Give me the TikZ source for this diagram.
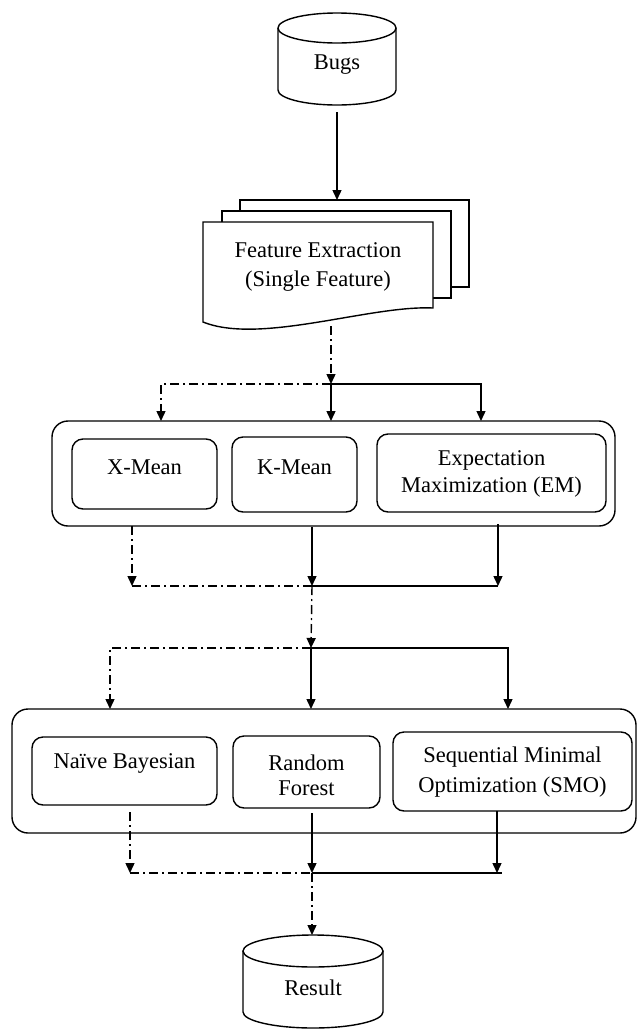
\documentclass[tikz,border=0pt]{standalone}
\usepackage{fontspec}
\setmainfont{Liberation Serif}
\usetikzlibrary{arrows.meta}
\tikzset{
  ln/.style={line width=1.4pt},
  arr/.style={ln, -{Triangle[length=10pt,width=9pt]}},
  dd/.style={dash pattern=on 9pt off 4pt on 2pt off 4pt},
  box/.style={draw, line width=1.4pt, rounded corners=11pt, inner sep=0pt},
  bigbox/.style={draw, line width=1.4pt, rounded corners=16pt, inner sep=0pt},
  txt/.style={font=\fontsize{22.5}{27}\selectfont, align=center, inner sep=0pt},
}
\begin{document}
\begin{tikzpicture}[x=1pt,y=-1pt]
\useasboundingbox (0,0) rectangle (638,1029);
% ---- Bugs cylinder
\draw[ln] (278,28) -- (278,90) arc[start angle=180,end angle=360,x radius=59pt,y radius=15pt] -- (396,28);
\draw[ln] (337,28) ellipse[x radius=59pt, y radius=15pt];
\node[minimum width=118pt, minimum height=92pt, inner sep=0pt] (bugs) at (337,59) {};
\node[txt] (bugst) at (337,65) {Bugs};
\coordinate (bugsout) at (337,112);
% ---- Feature extraction (multi document)
\draw[ln, fill=white] (240,200) rectangle (469,287);
\draw[ln, fill=white] (222,211) rectangle (451,298);
\draw[ln, fill=white] (203,222) -- (433,222) -- (433,308)
   .. controls (370,305) and (260,345) .. (203,322) -- cycle;
\node[txt, font=\fontsize{22.5}{29}\selectfont] (feat) at (318,267) {Feature Extraction\\(Single Feature)};
\coordinate (doctop) at (337,200);
\coordinate (docbot) at (331,326);
\draw[arr] (bugsout) -- (doctop);
% ---- split 1
\coordinate (j1) at (331,384);
\coordinate (c1a) at (161,421);
\coordinate (c1b) at (331,421);
\coordinate (c1c) at (481,421);
\draw[arr,dd] (docbot) -- (j1);
\draw[arr,dd] (j1) -| (c1a);
\draw[arr] (j1) -- (c1b);
\draw[arr] (j1) -| (c1c);
% ---- container 1
\node[bigbox, minimum width=563pt, minimum height=105pt] (cont1) at (333.5,473.5) {};
\node[box, minimum width=145pt, minimum height=70pt] (xmean) at (144.5,474) {};
\node[txt] (xmeant) at (144.5,467) {X-Mean};
\node[box, minimum width=125pt, minimum height=75pt] (kmean) at (294.5,474.5) {};
\node[txt] (kmeant) at (294.5,467) {K-Mean};
\node[box, minimum width=229pt, minimum height=78pt] (em) at (491.5,473) {};
\node[txt] (emt) at (491.5,474) {Expectation\\Maximization (EM)};
% ---- merge 1
\coordinate (m1a) at (132,526);
\coordinate (m1b) at (312,527);
\coordinate (m1c) at (498,524);
\coordinate (j2) at (312,586);
\coordinate (e1a) at (132,586);
\coordinate (e1c) at (498,586);
\draw[arr,dd] (m1a) -- (e1a);
\draw[arr] (m1b) -- (j2);
\draw[arr] (m1c) -- (e1c);
\draw[ln,dd] (e1a) -- (j2);
\draw[ln] (j2) -- (e1c);
% ---- split 2
\coordinate (j3) at (311,648);
\coordinate (c2a) at (110,709);
\coordinate (c2b) at (311,709);
\coordinate (c2c) at (508,709);
\draw[arr,dd] (j2) -- (j3);
\draw[arr,dd] (j3) -| (c2a);
\draw[arr] (j3) -- (c2b);
\draw[arr] (j3) -| (c2c);
% ---- container 2
\node[bigbox, minimum width=624pt, minimum height=124pt] (cont2) at (324,771) {};
\node[box, minimum width=185pt, minimum height=68pt] (nb) at (124.5,771) {};
\node[txt] (nbt) at (124.5,763) {Naïve Bayesian};
\node[box, minimum width=147pt, minimum height=72pt] (rf) at (306.5,772) {};
\node[txt, font=\fontsize{22.5}{25}\selectfont] (rft) at (306.5,775) {Random\\Forest};
\node[box, minimum width=239pt, minimum height=79pt] (smo) at (512.5,771.5) {};
\node[txt, font=\fontsize{22.5}{30}\selectfont] (smot) at (512.5,772) {Sequential Minimal\\Optimization (SMO)};
% ---- merge 2
\coordinate (m2a) at (130,812);
\coordinate (m2b) at (312,813);
\coordinate (m2c) at (497,811);
\coordinate (j4) at (312,873);
\coordinate (e2a) at (130,873);
\coordinate (e2c) at (497,873);
\coordinate (e2end) at (502,873);
\draw[arr,dd] (m2a) -- (e2a);
\draw[arr] (m2b) -- (j4);
\draw[arr] (m2c) -- (e2c);
\draw[ln,dd] (e2a) -- (j4);
\draw[ln] (j4) -- (e2end);
% ---- Result cylinder
\coordinate (restop) at (312,935);
\draw[arr,dd] (j4) -- (restop);
\draw[ln] (243,951) -- (243,1012) arc[start angle=180,end angle=360,x radius=70pt,y radius=16pt] -- (383,951);
\draw[ln] (313,951) ellipse[x radius=70pt, y radius=16pt];
\node[minimum width=140pt, minimum height=93pt, inner sep=0pt] (res) at (313,981.5) {};
\node[txt] (rest) at (313,988) {Result};
\end{tikzpicture}
\end{document}
